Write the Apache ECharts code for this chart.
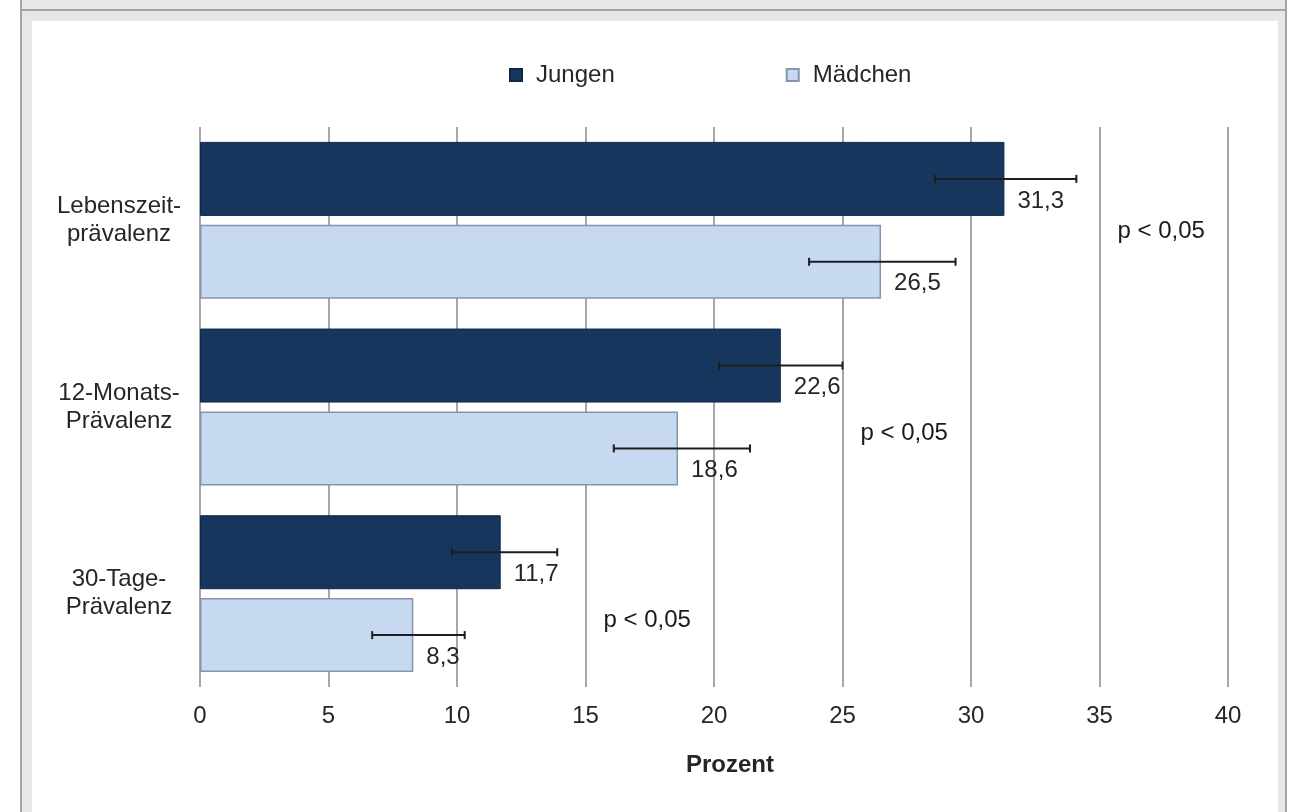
<!DOCTYPE html>
<html>
<head>
<meta charset="utf-8">
<script src="https://cdn.jsdelivr.net/npm/echarts@6/dist/echarts.min.js"></script>
<style>
  html, body { margin: 0; padding: 0; background: #ffffff; }
  #frame { position: absolute; left: 20px; top: 0; width: 1263px; height: 812px; background: #e6e7e9;
           border-left: 2px solid #a4a4a4; border-right: 2px solid #a4a4a4; }
  #topline { position: absolute; left: 20px; top: 9px; width: 1267px; height: 2px; background: #a4a4a4; }
  #inner { position: absolute; left: 32px; top: 21px; width: 1246px; height: 791px; background: #ffffff; }
  #chart { position: absolute; left: 0; top: 0; width: 1291px; height: 812px; }
</style>
</head>
<body>
<div id="frame"></div>
<div id="topline"></div>
<div id="inner"></div>
<div id="chart"></div>
<script>
// ---- data ----
const categories = ['Lebenszeit-\nprävalenz', '12-Monats-\nPrävalenz', '30-Tage-\nPrävalenz'];
const seriesNames = ['Jungen', 'Mädchen'];
const jungen = [31.3, 22.6, 11.7];
const maedchen = [26.5, 18.6, 8.3];
const jungenLow = [28.6, 20.2, 9.8];
const jungenHigh = [34.1, 25.0, 13.9];
const maedchenLow = [23.7, 16.1, 6.7];
const maedchenHigh = [29.4, 21.4, 10.3];
const xTicks = [0, 5, 10, 15, 20, 25, 30, 35, 40];
const pText = ['p < 0,05', 'p < 0,05', 'p < 0,05'];
const pX = [35.7, 25.7, 15.7];
const xAxisName = 'Prozent';

// ---- style ----
const FONT = '"Liberation Sans", Arial, Helvetica, sans-serif';
const TXT = '#262626';
const BAR_W = 74;
const BAR_GAP = 0.12;
const pDy = [11, 26, 27];

const chart = echarts.init(document.getElementById('chart'), null, { renderer: 'canvas' });

const fmt = v => v.toFixed(1).replace('.', ',');

const errData = [];
for (let i = 0; i < categories.length; i++) {
  errData.push([i, jungenLow[i], jungenHigh[i], 0]);
  errData.push([i, maedchenLow[i], maedchenHigh[i], 1]);
}

const option = {
  backgroundColor: 'transparent',
  animation: false,
  textStyle: { fontFamily: FONT },
  legend: {
    data: seriesNames,
    top: 58,
    left: 504,
    itemWidth: 12,
    itemHeight: 12,
    itemGap: 171,
    icon: 'rect',
    textStyle: { fontSize: 24, color: TXT, fontFamily: FONT, padding: [0, 0, 0, 9] }
  },
  grid: { left: 200, right: 63, top: 127, bottom: 125, containLabel: false },
  xAxis: {
    type: 'value',
    min: 0, max: 40, interval: 5,
    axisLine: { show: false },
    axisTick: { show: false },
    splitLine: { show: true, lineStyle: { color: '#8a8a8a', width: 1.5 } },
    axisLabel: { fontSize: 24, color: TXT, fontFamily: FONT, margin: 17,
                 formatter: v => xTicks.includes(v) ? String(v) : '' },
    name: xAxisName,
    nameLocation: 'middle',
    nameGap: 66,
    nameTextStyle: { fontSize: 24, fontWeight: 'bold', color: TXT, fontFamily: FONT, padding: [0, 0, 0, 32] }
  },
  yAxis: {
    type: 'category',
    data: categories,
    inverse: true,
    axisLine: { show: false },
    axisTick: { show: false },
    splitLine: { show: false },
    axisLabel: { fontSize: 24, color: TXT, fontFamily: FONT, align: 'center', margin: 81, lineHeight: 28 }
  },
  series: [
    {
      name: seriesNames[0], type: 'bar', data: jungen,
      barWidth: BAR_W, barGap: (BAR_GAP * 100) + '%',
      itemStyle: { color: '#17365d', borderColor: '#0f2748', borderWidth: 1 },
      label: { show: true, position: 'right', offset: [8, 22], formatter: p => fmt(p.value),
               fontSize: 24, color: TXT, fontFamily: FONT },
      z: 2
    },
    {
      name: seriesNames[1], type: 'bar', data: maedchen,
      barWidth: BAR_W,
      itemStyle: { color: '#c6d9f1', borderColor: '#8595ad', borderWidth: 1.5 },
      label: { show: true, position: 'right', offset: [8, 22], formatter: p => fmt(p.value),
               fontSize: 24, color: TXT, fontFamily: FONT },
      z: 2
    },
    {
      type: 'custom',
      name: 'err',
      data: errData,
      encode: { x: [1, 2], y: 0 },
      z: 5,
      renderItem: function (params, api) {
        const cat = api.value(0);
        const lo = api.coord([api.value(1), cat]);
        const hi = api.coord([api.value(2), cat]);
        const half = BAR_W * (1 + BAR_GAP) / 2;
        const off = api.value(3) === 0 ? -half : half;
        const y = lo[1] + off;
        const cap = 4;
        const st = { stroke: '#1e1e1e', lineWidth: 2 };
        return {
          type: 'group',
          children: [
            { type: 'line', shape: { x1: lo[0], y1: y, x2: hi[0], y2: y }, style: st },
            { type: 'line', shape: { x1: lo[0], y1: y - cap, x2: lo[0], y2: y + cap }, style: st },
            { type: 'line', shape: { x1: hi[0], y1: y - cap, x2: hi[0], y2: y + cap }, style: st }
          ]
        };
      }
    },
    {
      type: 'scatter',
      name: 'p',
      symbolSize: 0,
      itemStyle: { opacity: 1 },
      data: pX.map((x, i) => ({
        value: [x, i],
        label: { show: true, formatter: pText[i], position: 'right', distance: 0, offset: [0, pDy[i]],
                 fontSize: 24, color: '#1a1a1a', opacity: 1, fontFamily: FONT }
      })),
      z: 6
    }
  ]
};
chart.setOption(option);
</script>
</body>
</html>
